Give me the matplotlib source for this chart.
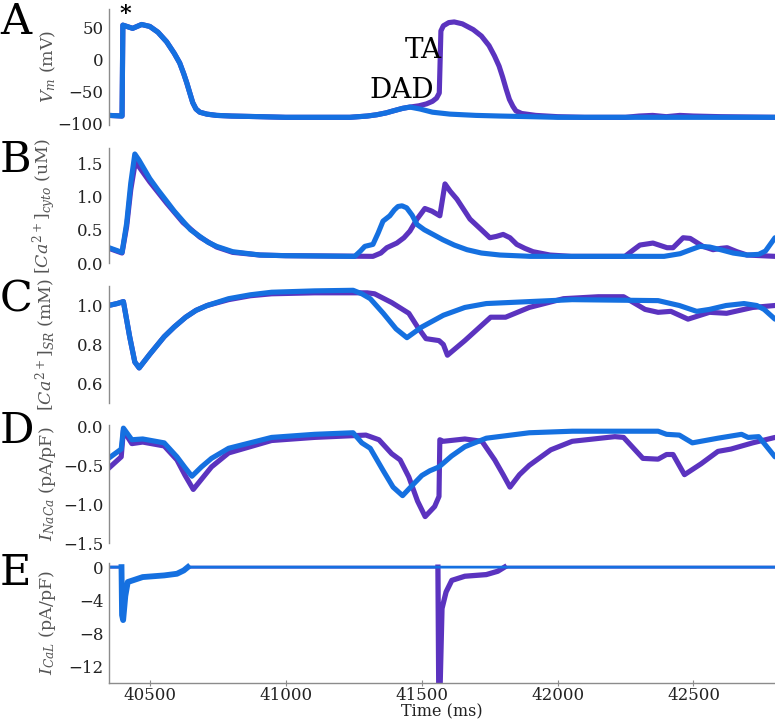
import numpy as np
import matplotlib
matplotlib.use("Agg")
import matplotlib.pyplot as plt

# ---------------- data ----------------
PURPLE = "#5b33bf"
BLUE = "#1570e0"

# Panel A: membrane potential (mV)
tA_purple = [40350, 40398, 40401, 40437, 40470, 40500, 40530, 40562, 40590, 40610, 40625, 40636,
             40648, 40658, 40670, 40684, 40710, 40746, 40800, 40905, 41000, 41100, 41236, 41300,
             41335, 41370, 41395, 41430, 41457, 41490, 41518, 41540, 41555, 41565, 41571, 41580,
             41600, 41620, 41650, 41690, 41720, 41748, 41768, 41785, 41798, 41811, 41823, 41836,
             41847, 41868, 41920, 42000, 42100, 42250, 42300, 42350, 42400, 42450, 42500, 42600, 42800]
vA_purple = [-87, -88, 54, 49, 55, 52, 43, 28, 10, -5, -22, -36,
             -53, -67, -77, -82, -85, -87, -88, -89, -90, -90, -90, -88,
             -86, -83, -80, -76, -74, -72, -69, -65, -60, -52, 45, 53,
             58, 59, 56, 47, 37, 22, 6, -10, -27, -46, -62, -73,
             -80, -84, -87, -89, -90, -90, -88, -87, -89, -87, -88, -89, -90]
tA_blue = [40350, 40398, 40401, 40437, 40470, 40500, 40530, 40562, 40590, 40610, 40625, 40636,
           40648, 40658, 40670, 40684, 40710, 40746, 40800, 40905, 41000, 41100, 41236, 41300,
           41335, 41370, 41395, 41430, 41457, 41494, 41540, 41604, 41700, 41788, 41900, 42000, 42800]
vA_blue = [-87, -88, 54, 49, 55, 52, 43, 28, 10, -5, -22, -36,
           -53, -67, -77, -82, -85, -87, -88, -89, -90, -90, -90, -88,
           -86, -83, -80, -76, -74, -77, -82, -85, -87, -88, -89, -90, -90]

# Panel B: cytosolic Ca (uM)
tB_purple = [40350, 40398, 40415, 40430, 40447, 40460, 40500, 40562, 40622, 40684, 40746, 40805,
             40905, 41000, 41321, 41350, 41372, 41409, 41435, 41457, 41483, 41512, 41538, 41567,
             41586, 41605, 41630, 41678, 41720, 41751, 41775, 41800, 41825, 41850, 41880, 41910,
             41972, 42050, 42248, 42280, 42303, 42351, 42403, 42425, 42462, 42488, 42535, 42572,
             42600, 42624, 42660, 42697, 42800]
cB_purple = [0.22, 0.15, 0.55, 1.10, 1.52, 1.45, 1.22, 0.90, 0.61, 0.39, 0.24, 0.16,
             0.12, 0.11, 0.10, 0.15, 0.23, 0.30, 0.38, 0.48, 0.66, 0.82, 0.78, 0.71,
             1.19, 1.08, 0.96, 0.66, 0.50, 0.38, 0.40, 0.43, 0.38, 0.28, 0.22, 0.17,
             0.12, 0.10, 0.10, 0.20, 0.27, 0.30, 0.23, 0.23, 0.38, 0.37, 0.25, 0.20,
             0.22, 0.23, 0.17, 0.12, 0.10]
tB_blue = [40350, 40398, 40415, 40430, 40445, 40460, 40500, 40530, 40562, 40590, 40622, 40650,
           40684, 40715, 40746, 40805, 40905, 41000, 41254, 41275, 41291, 41321, 41340, 41358,
           41383, 41400, 41413, 41428, 41445, 41465, 41483, 41510, 41542, 41578, 41620, 41667,
           41720, 41788, 41900, 42392, 42451, 42490, 42524, 42560, 42600, 42646, 42697, 42740,
           42765, 42800]
cB_blue = [0.23, 0.16, 0.60, 1.20, 1.64, 1.55, 1.27, 1.10, 0.93, 0.78, 0.63, 0.50,
           0.40, 0.31, 0.25, 0.17, 0.12, 0.11, 0.10, 0.18, 0.25, 0.28, 0.45, 0.63,
           0.71, 0.80, 0.85, 0.86, 0.83, 0.72, 0.58, 0.50, 0.43, 0.35, 0.27, 0.20,
           0.15, 0.12, 0.10, 0.10, 0.14, 0.20, 0.25, 0.24, 0.20, 0.15, 0.12, 0.13,
           0.18, 0.38]

# Panel C: SR Ca (mM)
tC_purple = [40348, 40380, 40403, 40426, 40445, 40461, 40500, 40553, 40590, 40632, 40670, 40711,
             40790, 40870, 40948, 41106, 41300, 41327, 41390, 41453, 41485, 41516, 41564, 41580,
             41595, 41659, 41754, 41809, 41896, 42022, 42150, 42243, 42322, 42370, 42417, 42480,
             42559, 42622, 42718, 42800]
cC_purple = [1.00, 1.01, 1.02, 0.84, 0.71, 0.68, 0.75, 0.84, 0.89, 0.94, 0.975, 1.00,
             1.03, 1.05, 1.06, 1.065, 1.065, 1.06, 1.015, 0.96, 0.89, 0.83, 0.82, 0.80,
             0.745, 0.82, 0.94, 0.94, 0.99, 1.035, 1.045, 1.045, 0.98, 0.965, 0.97, 0.93,
             0.965, 0.96, 0.99, 1.00]
tC_blue = [40348, 40380, 40403, 40426, 40445, 40461, 40500, 40553, 40590, 40632, 40670, 40711,
           40790, 40870, 40948, 41106, 41248, 41280, 41311, 41359, 41406, 41446, 41501, 41580,
           41659, 41738, 41896, 42054, 42370, 42448, 42512, 42559, 42620, 42686, 42733, 42760, 42800]
cC_blue = [1.00, 1.01, 1.02, 0.84, 0.71, 0.68, 0.75, 0.84, 0.89, 0.94, 0.975, 1.00,
           1.035, 1.055, 1.068, 1.075, 1.078, 1.06, 1.035, 0.96, 0.88, 0.835, 0.89, 0.95,
           0.99, 1.01, 1.02, 1.03, 1.025, 1.00, 0.97, 0.98, 1.00, 1.01, 1.00, 0.98, 0.93]

# Panel D: I_NaCa (pA/pF)
tD_purple = [40348, 40395, 40403, 40434, 40474, 40553, 40600, 40630, 40660, 40690, 40727, 40790,
             40948, 41106, 41295, 41343, 41390, 41421, 41453, 41485, 41513, 41548, 41564, 41567,
             41580, 41659, 41722, 41769, 41800, 41825, 41860, 41896, 41975, 42054, 42211, 42243,
             42314, 42370, 42401, 42425, 42467, 42528, 42590, 42638, 42718, 42800]
iD_purple = [-0.54, -0.39, -0.05, -0.22, -0.20, -0.25, -0.43, -0.63, -0.81, -0.68, -0.52, -0.34,
             -0.18, -0.14, -0.11, -0.17, -0.35, -0.43, -0.65, -0.96, -1.16, -1.03, -0.90, -0.17,
             -0.19, -0.16, -0.19, -0.43, -0.62, -0.78, -0.62, -0.50, -0.30, -0.19, -0.13, -0.14,
             -0.41, -0.42, -0.36, -0.36, -0.62, -0.48, -0.32, -0.29, -0.21, -0.14]
tD_blue = [40348, 40395, 40403, 40434, 40474, 40553, 40600, 40630, 40655, 40690, 40727, 40790,
           40948, 41106, 41248, 41280, 41311, 41359, 41395, 41430, 41465, 41501, 41530, 41564,
           41610, 41659, 41738, 41896, 42054, 42370, 42401, 42448, 42496, 42590, 42677, 42701,
           42740, 42800]
iD_blue = [-0.41, -0.29, -0.02, -0.17, -0.16, -0.21, -0.39, -0.53, -0.64, -0.52, -0.41, -0.28,
           -0.14, -0.10, -0.08, -0.21, -0.28, -0.57, -0.78, -0.89, -0.76, -0.63, -0.57, -0.52,
           -0.38, -0.26, -0.15, -0.08, -0.06, -0.06, -0.10, -0.11, -0.21, -0.15, -0.10, -0.14,
           -0.13, -0.39]

# Panel E: I_CaL (pA/pF)
tE_purple = [40350, 40396, 40398, 40402, 40410, 40419, 40474, 40553, 40600, 40625, 40640, 41560,
             41563, 41568, 41575, 41590, 41611, 41659, 41738, 41780, 41805, 42800]
iE_purple = [0, 0, -5.8, -6.4, -3.5, -1.8, -1.2, -1.0, -0.8, -0.4, 0, 0,
             -14.5, -14.5, -5.0, -3.0, -1.6, -1.1, -0.9, -0.5, 0, 0]
tE_blue = [40350, 40396, 40398, 40402, 40410, 40419, 40474, 40553, 40600, 40625, 40640, 42800]
iE_blue = [0, 0, -5.8, -6.4, -3.5, -1.8, -1.2, -1.0, -0.8, -0.4, 0, 0]

panel_letters = ["A", "B", "C", "D", "E"]
ylabels = [r"$V_m$ (mV)", r"$[Ca^{2+}]_{cyto}$ (uM)", r"$[Ca^{2+}]_{SR}$ (mM)",
           r"$I_{NaCa}$ (pA/pF)", r"$I_{CaL}$ (pA/pF)"]
yticks = [[-100, -50, 0, 50], [0.0, 0.5, 1.0, 1.5], [0.6, 0.8, 1.0],
          [-1.5, -1.0, -0.5, 0.0], [-12, -8, -4, 0]]
ytick_labels = [["\u2212100", "\u221250", "0", "50"], ["0.0", "0.5", "1.0", "1.5"],
                ["0.6", "0.8", "1.0"], ["\u22121.5", "\u22121.0", "\u22120.5", "0.0"],
                ["\u221212", "\u22128", "\u22124", "0"]]
ylims = [(-102, 80), (0.0, 1.73), (0.5, 1.1), (-1.5, 0.02), (-14, 0.5)]
xticks = [40500, 41000, 41500, 42000, 42500]
xlim = (40350, 42800)

# ---------------- figure ----------------
plt.rcParams["font.family"] = ["DejaVu Serif"]
plt.rcParams["mathtext.fontset"] = "dejavuserif"

W, H = 775, 721
fig = plt.figure(figsize=(W / 100, H / 100), dpi=100)

# pixel boxes (top, bottom) for each panel
boxes = [(8.5, 125), (148, 263), (286, 403), (425, 543), (563, 683)]
left_px = 109

axes = []
for (top, bot) in boxes:
    ax = fig.add_axes([left_px / W, 1 - bot / H, (W - left_px) / W, (bot - top) / H])
    axes.append(ax)

series = [
    (tA_purple, vA_purple, tA_blue, vA_blue),
    (tB_purple, cB_purple, tB_blue, cB_blue),
    (tC_purple, cC_purple, tC_blue, cC_blue),
    (tD_purple, iD_purple, tD_blue, iD_blue),
]

for ax, (tp, yp, tb, yb) in zip(axes[:4], series):
    ax.plot(tp, yp, color=PURPLE, lw=3.7, solid_joinstyle="round", solid_capstyle="round")
    ax.plot(tb, yb, color=BLUE, lw=3.7, solid_joinstyle="round", solid_capstyle="round")

# Panel E: thin baseline, thick noisy recovery
axE = axes[4]
tEp = np.array(tE_purple); iEp = np.array(iE_purple)
tEb = np.array(tE_blue); iEb = np.array(iE_blue)
axE.plot(tEp, iEp, color=PURPLE, lw=2.0)
m = (tEp >= 41560) & (tEp <= 41805)
axE.plot(tEp[m], iEp[m], color=PURPLE, lw=3.8, solid_joinstyle="round")
axE.plot(tEb, iEb, color=BLUE, lw=2.0)
mb = (tEb >= 40396) & (tEb <= 40640)
axE.plot(tEb[mb], iEb[mb], color=BLUE, lw=4.2, solid_joinstyle="round")

for i, ax in enumerate(axes):
    ax.set_xlim(*xlim)
    ax.set_ylim(*ylims[i])
    ax.set_yticks(yticks[i])
    ax.set_yticklabels(ytick_labels[i])
    for s in ["top", "right"]:
        ax.spines[s].set_visible(False)
    ax.spines["left"].set_color("#8c8c8c")
    ax.spines["left"].set_linewidth(1.0)
    ax.tick_params(axis="y", length=0, pad=4, labelsize=12, labelcolor="#222222")
    ax.set_ylabel(ylabels[i], fontsize=12.5, color="#555555")
    ax.yaxis.set_label_coords(-0.077, 0.5)
    if i < 4:
        ax.spines["bottom"].set_visible(False)
        ax.set_xticks([])
    else:
        ax.spines["bottom"].set_color("#8c8c8c")
        ax.spines["bottom"].set_linewidth(1.0)
        ax.set_xticks(xticks)
        ax.set_xticklabels([str(x) for x in xticks])
        ax.tick_params(axis="x", direction="inout", length=4, color="#8c8c8c",
                       labelsize=12, labelcolor="#222222", pad=1)
    ax.patch.set_visible(False)

# x-axis label placed in figure coordinates just under the tick labels
fig.text((left_px + (W - left_px) / 2) / W, 1 - 703 / H, "Time (ms)", fontsize=11.5,
         color="#222222", ha="center", va="top")

# panel letters
letter_y = [22, 160, 300, 431, 573]
for L, yp in zip(panel_letters, letter_y):
    fig.text(0.0, 1 - yp / H, L, fontsize=31, ha="left", va="center", color="black")

# annotations on panel A
axA = axes[0]
axA.text(40410, 72, "*", fontsize=16, fontweight="bold", ha="center", va="center", clip_on=False)
axA.text(41508, 14, "TA", fontsize=20, ha="center", va="center")
axA.text(41427, -48, "DAD", fontsize=20, ha="center", va="center")

fig.savefig("out.png", dpi=100)
